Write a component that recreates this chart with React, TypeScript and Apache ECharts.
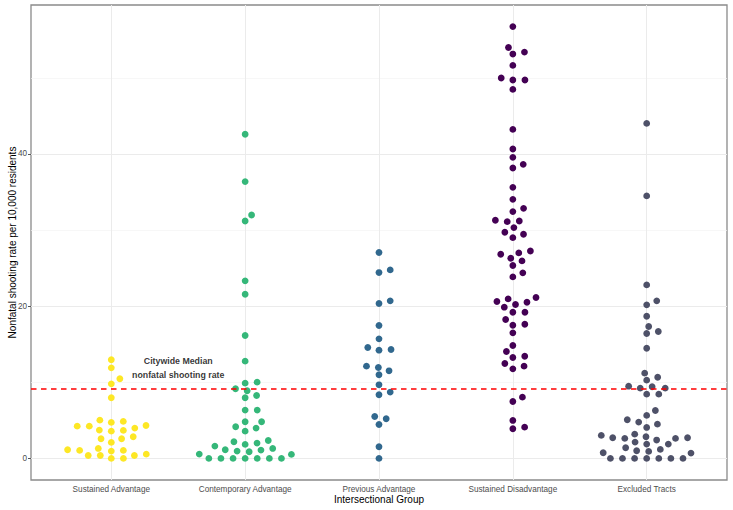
import React, { useEffect, useRef } from "react";
import * as echarts from "echarts";

const categories = [
  "Sustained Advantage",
  "Contemporary Advantage",
  "Previous Advantage",
  "Sustained Disadvantage",
  "Excluded Tracts",
];

const sustainedAdvantage = [
  12.96, 11.9, 10.46, 9.8, 7.97, 4.24, 4.24, 5.03, 4.73, 4.86, 3.98, 4.33, 3.72, 3.58, 3.68,
  2.85, 2.59, 2.59, 2.1, 1.05, 1.05, 1.31, 0.96, 1.14, 0.56, 0.39, 0.39, 0.39, 0, 0,
];

const contemporaryAdvantage = [
  42.6, 36.37, 31.99, 31.2, 23.33, 21.57, 16.15, 12.78, 9.89, 10.02, 8.89, 9.15, 7.97, 8.27,
  6.35, 6.35, 4.81, 4.81, 4.16, 3.98, 3.58, 2.19, 1.84, 2.01, 2.36, 1.62, 1.14, 0.88, 0.96,
  1.09, 1.31, 0.57, 0.53, 0, 0, 0, 0, 0, 0, 0,
];

const previousAdvantage = [
  27.05, 24.42, 24.77, 20.35, 20.7, 17.46, 15.71, 14.57, 14.22, 14.31, 12.12, 11.95, 11.51,
  10.99, 9.67, 8.36, 8.71, 5.51, 5.21, 4.46, 1.53, 0,
];

const sustainedDisadvantage = [
  56.74, 54.0, 53.13, 53.39, 51.64, 49.98, 49.72, 49.72, 48.49, 43.23, 40.66, 39.56, 38.64,
  38.16, 35.62, 34.04, 32.43, 32.86, 31.11, 31.2, 31.29, 29.71, 30.33, 29.45, 29.01, 26.82,
  26.3, 27.0, 27.26, 25.95, 25.34, 24.38, 23.85, 20.61, 20.96, 20.22, 20.52, 21.14, 19.87,
  19.21, 19.21, 18.25, 17.5, 17.63, 16.5, 14.84, 14.05, 13.26, 13.43, 12.47, 11.77, 12.12,
  8.05, 7.48, 4.99, 4.11, 3.9,
];

const excludedTracts = [
  44.02, 34.49, 22.8, 20.7, 20.18, 18.68, 17.33, 16.67, 16.41, 14.48, 11.2, 10.67, 10.28,
  9.49, 9.23, 9.41, 9.23, 8.44, 8.44, 6.3, 5.65, 5.08, 4.77, 4.5, 4.07, 2.85, 2.72, 3.02,
  2.63, 3.19, 2.41, 2.63, 2.72, 2.14, 1.88, 1.88, 1.4, 1.18, 1.01, 0.92, 0.75, 0.7, 0, 0, 0,
  0, 0, 0, 0,
];

const groups = [
  sustainedAdvantage,
  contemporaryAdvantage,
  previousAdvantage,
  sustainedDisadvantage,
  excludedTracts,
];

const citywideMedian = 9.1;
const yTicks = [0, 20, 40];
const yMinorTicks = [10, 30, 50];
const annotationLines = ["Citywide Median", "nonfatal shooting rate"];
const annotationPos = [1.5, 11.9];

const colors = ["#FDE725", "#35B779", "#31688E", "#440154", "#4e5168"];

const W = 733;
const H = 510;
const GRID = { left: 31, right: 6, top: 5, bottom: 30 };

// beeswarm "swarm" placement (as in the beeswarm / ggbeeswarm packages)
function swarmOffsets(values: number[], pxPerY: number, dxSize: number, dySize: number): number[] {
  const order = values.map((_, i) => i).sort((a, b) => values[a] - values[b] || a - b);
  const py: number[] = [];
  const px: number[] = [];
  const out = new Array(values.length).fill(0);
  for (const i of order) {
    const yi = (values[i] * pxPerY) / dySize;
    const preY: number[] = [];
    const preX: number[] = [];
    for (let k = 0; k < py.length; k++) {
      if (Math.abs(yi - py[k]) < 1) {
        preY.push(py[k]);
        preX.push(px[k]);
      }
    }
    let best = 0;
    if (preY.length) {
      const cands: number[] = [0];
      const offs = preY.map((y) => Math.sqrt(Math.max(0, 1 - (yi - y) * (yi - y))));
      preX.forEach((x, k) => cands.push(x + offs[k]));
      preX.forEach((x, k) => cands.push(x - offs[k]));
      let bestAbs = Infinity;
      for (const c of cands) {
        let bad = false;
        for (let k = 0; k < preY.length; k++) {
          if ((yi - preY[k]) ** 2 + (c - preX[k]) ** 2 < 0.999) {
            bad = true;
            break;
          }
        }
        if (!bad && Math.abs(c) < bestAbs) {
          bestAbs = Math.abs(c);
          best = c;
        }
      }
    }
    out[i] = best * dxSize;
    py.push(yi);
    px.push(best);
  }
  return out;
}

export default function App() {
  const ref = useRef<HTMLDivElement>(null);

  useEffect(() => {
    if (!ref.current) return;
    const chart = echarts.init(ref.current, undefined, { renderer: "svg" });

    const all = groups.flat();
    const dMin = Math.min(...all);
    const dMax = Math.max(...all);
    const pad = (dMax - dMin) * 0.05;
    const yMin = dMin - pad;
    const yMax = dMax + pad;
    const xMin = 0.4;
    const xMax = categories.length + 0.6;

    const gw = W - GRID.left - GRID.right;
    const gh = H - GRID.top - GRID.bottom;
    const pxPerY = gh / (yMax - yMin);
    const pxPerX = gw / (xMax - xMin);

    const pointSeries = groups.map((vals, gi) => {
      const offs = swarmOffsets(vals, pxPerY, 12.1, 7.1);
      return {
        type: "scatter",
        name: categories[gi],
        z: 3,
        symbol: "circle",
        symbolSize: 6.8,
        itemStyle: { color: colors[gi], opacity: 1 },
        silent: true,
        data: vals.map((v, i) => [gi + 1 + offs[i] / pxPerX, v]),
      };
    });

    const catTicks = categories.map((_, i) => i + 1);
    const font = "Liberation Sans, Arial, sans-serif";

    const option = {
      animation: false,
      grid: {
        ...GRID,
        containLabel: false,
        outerBoundsMode: "none",
        show: true,
        borderColor: "#8a8a8a",
        borderWidth: 1.3,
        backgroundColor: "#ffffff",
      },
      xAxis: {
        type: "value",
        min: xMin,
        max: xMax,
        axisLine: { show: false },
        axisTick: {
          show: true,
          customValues: catTicks,
          length: 3,
          lineStyle: { color: "#555", width: 1 },
        },
        axisLabel: {
          show: true,
          customValues: catTicks,
          formatter: (v: number) => categories[Math.round(v) - 1] ?? "",
          fontSize: 8.2,
          color: "#4d4d4d",
          fontFamily: font,
          margin: 5,
        },
        splitLine: { show: false },
        name: "Intersectional Group",
        nameLocation: "middle",
        nameMoveOverlap: false,
        nameGap: 14,
        nameTextStyle: {
          fontSize: 10,
          color: "#000",
          fontFamily: font,
        },
      },
      yAxis: {
        type: "value",
        min: yMin,
        max: yMax,
        axisLine: { show: false },
        axisTick: {
          show: true,
          customValues: yTicks,
          length: 3,
          lineStyle: { color: "#555", width: 1 },
        },
        axisLabel: {
          show: true,
          customValues: yTicks,
          fontSize: 8.2,
          color: "#4d4d4d",
          fontFamily: font,
          margin: 4,
        },
        splitLine: { show: false },
        name: "Nonfatal shooting rate per 10,000 residents",
        nameLocation: "middle",
        nameMoveOverlap: false,
        nameGap: 14,
        nameTextStyle: {
          fontSize: 10,
          color: "#000",
          fontFamily: font,
        },
      },
      series: [
        {
          type: "scatter",
          z: 1,
          data: [],
          silent: true,
          markLine: {
            z: 1,
            silent: true,
            symbol: ["none", "none"],
            label: { show: false },
            animation: false,
            data: [
              ...yMinorTicks.map((v) => ({
                yAxis: v,
                lineStyle: { color: "#f3f3f3", width: 0.7, type: "solid" },
              })),
              ...yTicks.map((v) => ({
                yAxis: v,
                lineStyle: { color: "#ebebeb", width: 1, type: "solid" },
              })),
              ...catTicks.map((v) => ({
                xAxis: v,
                lineStyle: { color: "#ebebeb", width: 1, type: "solid" },
              })),
            ],
          },
        },
        ...pointSeries,
        {
          type: "scatter",
          z: 5,
          data: [],
          silent: true,
          markLine: {
            z: 5,
            silent: true,
            symbol: ["none", "none"],
            label: { show: false },
            animation: false,
            data: [
              {
                yAxis: citywideMedian,
                lineStyle: { color: "#ff0000", width: 1.5, type: [5.5, 4.5] },
              },
            ],
          },
        },
        {
          type: "scatter",
          z: 6,
          symbol: "circle",
          symbolSize: 1,
          itemStyle: { color: "rgba(0,0,0,0)" },
          silent: true,
          data: [annotationPos],
          label: {
            show: true,
            position: "inside",
            formatter: annotationLines.join("\n"),
            fontSize: 8.8,
            fontWeight: "bold",
            lineHeight: 13.7,
            color: "#000",
            fontFamily: font,
          },
        },
      ],
    };

    chart.setOption(option as any);
    return () => chart.dispose();
  }, []);

  return (
    <div
      ref={ref}
      style={{ position: "fixed", left: 0, top: 0, width: W, height: H, background: "#fff" }}
    />
  );
}
